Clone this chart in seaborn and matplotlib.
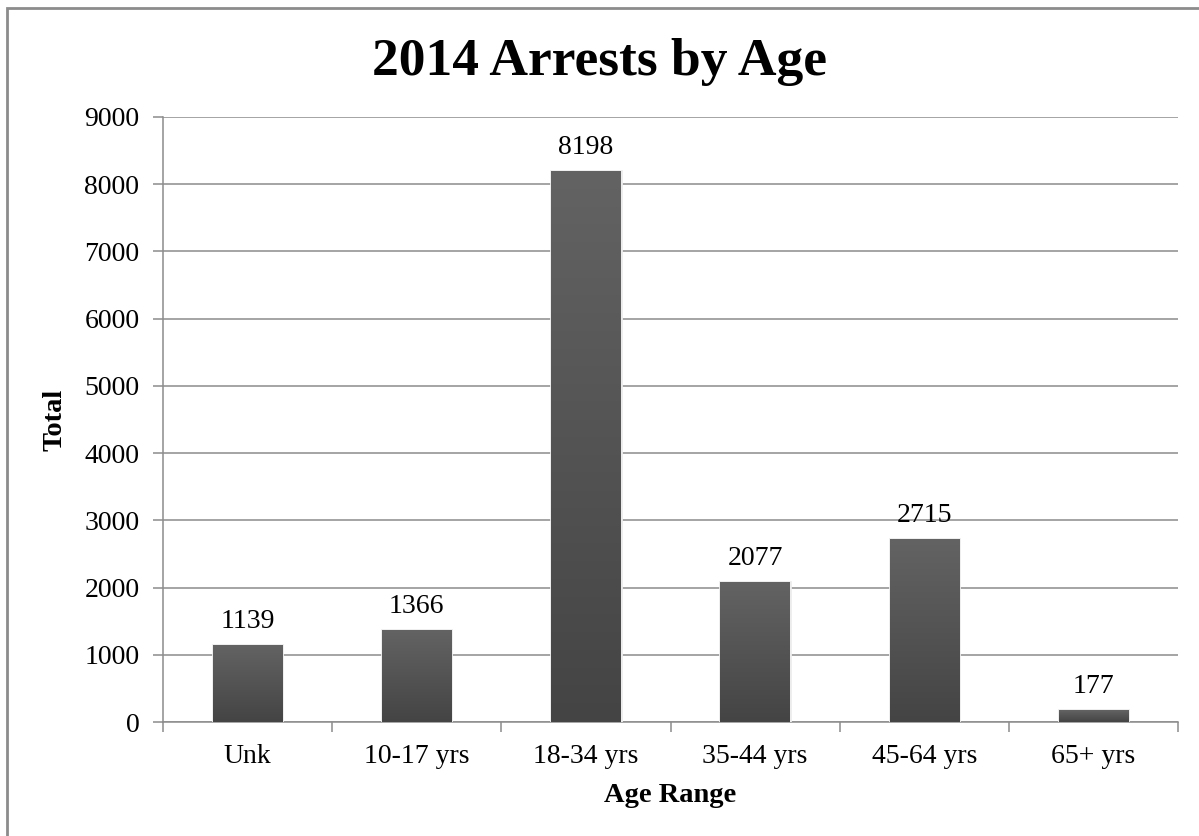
import numpy as np
import pandas as pd
import matplotlib
matplotlib.use("Agg")
import matplotlib.pyplot as plt
from matplotlib.colors import LinearSegmentedColormap
from matplotlib.patches import Rectangle
import seaborn as sns

# Arrest counts per age bracket, 2014
age_ranges = ["Unk", "10-17 yrs", "18-34 yrs", "35-44 yrs", "45-64 yrs", "65+ yrs"]
arrests = [1139, 1366, 8198, 2077, 2715, 177]
y_ticks = [0, 1000, 2000, 3000, 4000, 5000, 6000, 7000, 8000, 9000]

sns.set_theme(style="white")
plt.rcParams["font.family"] = ["Liberation Serif", "DejaVu Serif"]
plt.rcParams["text.color"] = "black"
plt.rcParams["axes.labelcolor"] = "black"
plt.rcParams["xtick.color"] = "black"
plt.rcParams["ytick.color"] = "black"

GRID = "#8c8c8c"
W, H = 1199, 836

fig = plt.figure(figsize=(W / 100, H / 100), dpi=100)
ax = fig.add_axes([163 / W, 1 - 722 / H, (1178 - 163) / W, (722 - 117) / H])

df = pd.DataFrame({"age": age_ranges, "total": arrests})
sns.barplot(data=df, x="age", y="total", color="#555555", width=0.41,
            saturation=1, edgecolor="#ececec", linewidth=2, ax=ax, zorder=3)

ax.set_xlim(-0.5, len(age_ranges) - 0.5)
ax.set_ylim(0, 9000)

# vertical shading inside each bar: lighter at the top, darker at the base
shade = LinearSegmentedColormap.from_list("shade", ["#444444", "#636363"])
ramp = np.linspace(0, 1, 256).reshape(-1, 1)
for patch in ax.patches:
    x0, y0 = patch.get_x(), patch.get_y()
    w, h = patch.get_width(), patch.get_height()
    im = ax.imshow(ramp, cmap=shade, origin="lower", aspect="auto",
                   extent=[x0, x0 + w, y0, y0 + h], zorder=4)
    im.set_clip_path(patch)
ax.set_xlim(-0.5, len(age_ranges) - 0.5)
ax.set_ylim(0, 9000)
ax.set_aspect("auto")

# value labels above the bars
for cont in ax.containers:
    ax.bar_label(cont, labels=[str(v) for v in arrests], padding=8,
                 fontsize=20, color="black", zorder=5)

# grid and axes styling
ax.set_yticks(y_ticks)
ax.yaxis.grid(True, color=GRID, linewidth=1.1, zorder=1)
ax.xaxis.grid(False)
ax.set_axisbelow(True)
for side in ["top", "right"]:
    ax.spines[side].set_visible(False)
for side in ["left", "bottom"]:
    ax.spines[side].set_color(GRID)
    ax.spines[side].set_linewidth(1.1)

ax.tick_params(axis="y", which="major", direction="out", length=7, width=1.1,
               color=GRID, labelcolor="black", labelsize=20, pad=10, left=True)
ax.set_xticks(range(len(age_ranges)))
ax.set_xticklabels(age_ranges)
ax.set_xticks(np.arange(-0.5, len(age_ranges)), minor=True)
ax.tick_params(axis="x", which="major", length=0, labelsize=20, pad=16,
               labelcolor="black", bottom=True)
ax.tick_params(axis="x", which="minor", direction="out", length=7, width=1.1,
               color=GRID, bottom=True)

ax.set_xlabel("Age Range", fontsize=20.5, fontweight="bold", color="black")
ax.xaxis.label.set_va("center")
ax.xaxis.set_label_coords(0.5, (722 - 795) / (722 - 117))
ax.set_ylabel("Total", fontsize=20.5, fontweight="bold", color="black")
ax.yaxis.label.set_va("center")
ax.yaxis.set_label_coords((55 - 163) / (1178 - 163), 0.5)

fig.text(0.5, 1 - 75 / H, "2014 Arrests by Age", ha="center", va="baseline",
         fontsize=38.5, fontweight="bold", color="black")

# outer chart border
fig.patches.append(Rectangle((7 / W, 1 - 845 / H), (1210 - 7) / W, (845 - 8) / H,
                             transform=fig.transFigure, fill=False,
                             edgecolor=GRID, linewidth=2))

fig.savefig("out.png", dpi=100, facecolor="white")
